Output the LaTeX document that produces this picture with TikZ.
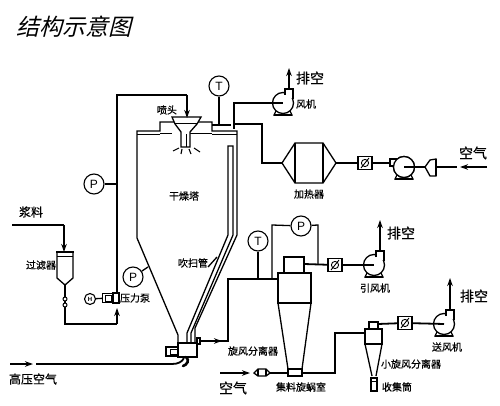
\documentclass[tikz,border=0pt]{standalone}
\usepackage{fontspec}
\setmainfont{Noto Sans CJK SC}
\setsansfont{Liberation Sans}
\newfontfamily\lblfont[FakeBold=0.6]{Noto Sans CJK SC}
\newfontfamily\bigfont[FakeBold=0.4]{Noto Sans CJK SC}
\usetikzlibrary{arrows.meta}
\tikzset{
  pipe/.style={line width=1.8pt,line join=miter},
  wall/.style={line width=1.3pt,line join=miter},
  thin wall/.style={line width=0.9pt},
  flow/.style={pipe,-{Stealth[length=8pt,width=5.5pt]}},
  gauge/.style={circle,draw,line width=1.1pt,fill=white,minimum size=20pt,inner sep=0pt,font=\sffamily\fontsize{12}{12}\selectfont},
  valve/.style={rectangle,draw,line width=1.6pt,fill=white,minimum width=14pt,minimum height=13pt,inner sep=0pt,
    path picture={\draw[line width=0.9pt] (path picture bounding box.center) circle (3.6pt);
      \draw[line width=0.9pt] ([shift={(-4pt,-5pt)}]path picture bounding box.center) -- ([shift={(4pt,5pt)}]path picture bounding box.center);}},
  big/.style={inner sep=0pt,font=\bigfont\fontsize{14}{14}\selectfont},
  mid/.style={inner sep=0pt,font=\bigfont\fontsize{12}{12}\selectfont},
  small/.style={inner sep=0pt,font=\lblfont\fontsize{10}{10}\selectfont},
  fanbody/.pic={
    \draw[line width=1.2pt] (-7,8) -- (-9,12) -- (9,12) -- (7,8);
    \draw[line width=1.8pt] (-9,12) -- (9,12);
    \draw[line width=1.3pt,fill=white] (0,0) circle (10.5);
  },
  fanoutlet/.pic={
    \draw[line width=1.3pt,fill=white] (2,-8) -- (2,-14) -- (10,-14) -- (10,-4);
  }
}
\begin{document}
\begin{tikzpicture}[x=1pt,y=-1pt]
\useasboundingbox (0,0) rectangle (500,406);
% title
\node[inner sep=0pt,xslant=0.25,font=\fontsize{23}{23}\selectfont] (title) at (76,27) {结构示意图};

% tower
\draw[wall] (178,343) -- (178,335) -- (137,238) -- (137,131) -- (160,131) -- (160,122) -- (212,122) -- (212,131) -- (237,131) -- (237,235) -- (195,328) -- (195,343);
\draw[thin wall] (137,134) -- (160,134);
\draw[thin wall] (212,134) -- (237,134);
\draw[thin wall] (160,133) -- (172,133);
\draw[thin wall] (190,133) -- (212,133);
% purge pipe
\draw[wall] (187,343) -- (187,333) -- (228,235) -- (228,146) -- (233,146) -- (233,235) -- (191,333) -- (191,343);
% nozzle
\draw[wall,fill=white] (172,117) -- (201,117) -- (197,124) -- (190,132) -- (190,147) -- (181,147) -- (181,132) -- (175,124) -- cycle;
\draw[thin wall] (174,123) -- (198,123);
\draw[thin wall] (186,134) -- (186,147);
\foreach \a/\b/\c/\d in {173/151/179/148, 181/154/182/149, 191/154/189/149, 200/152/194/148}
  \draw[line width=1.1pt] (\a,\b) -- (\c,\d);
\node[small] (lnozzle) at (167,110) {喷头};
\node[small] (ltower) at (184,196) {干燥塔};

% gauge T1 and exhaust fan
\node[gauge] (T1) at (219,86) {T};
\draw[wall] (T1) -- (219,124);
\draw[pipe] (212,125) -- (231,125);
\pic at (283,103) {fanbody};
\pic at (283,103) {fanoutlet};
\draw[pipe] (234,129) -- (234,103) -- (283,103);
\draw[flow] (289,90) -- (289,68);
\node[big] (lex1) at (310,78) {排空};
\node[small] (lfan1) at (306,104) {风机};

% air heater line
\draw[pipe] (234,124) -- (262,124) -- (262,163) -- (282,163);
\draw[wall] (282,163) -- (295,143) -- (323,143) -- (336,163) -- (323,183) -- (295,183) -- cycle;
\draw[wall] (295,143) -- (295,183) (323,143) -- (323,183);
\node[small] (lheat) at (309,194) {加热器};
\node[valve] (V1) at (365,163) {};
\draw[pipe] (336,163) -- (V1);
\draw[pipe] (V1) -- (390,163);
\pic at (404,167) {fanbody};
\draw[wall,fill=white] (390,159) rectangle (398,166);
\draw[wall,fill=white] (404,167) circle (10.5);
\draw[wall,fill=white] (425,167) -- (430,160) -- (436,159) -- (436,176) -- (430,176) -- cycle;
\draw[pipe] (404,167) -- (425,167);
\draw[line width=2pt] (436,159) -- (436,176);
\draw[pipe] (436,167) -- (457,167);
\draw[flow] (487,167) -- (460,167);
\node[big] (lair1) at (473,153) {空气};

% feed
\node[mid] (lfeed) at (31,212) {浆料};
\draw[pipe] (12,225) -- (64,225);
\draw[flow] (64,225) -- (64,252);
\draw[wall] (57,252) -- (57,278) -- (65,285) -- (73,278) -- (73,252);
\draw[pipe] (56,252) -- (74,252);
\draw[thin wall] (57,256) -- (73,256);
\node[small] (lfilter) at (41,265) {过滤器};
\draw[pipe] (65,285) -- (65,324) -- (117,324);
\draw[line width=1pt,fill=white] (65,299) circle (2) (65,305) circle (2);
\draw[flow] (117,324) -- (117,308);

% pump and pressure line
\draw[pipe] (117,304) -- (117,95) -- (187,95);
\draw[flow] (187,95) -- (187,118);
\node[gauge] (P1) at (94,184) {P};
\draw[wall] (P1) -- (117,184);
\node[gauge,minimum size=11pt,font=\sffamily\fontsize{6}{6}\selectfont\bfseries] (H) at (90,299) {H};
\node[rectangle,draw,line width=1.3pt,fill=white,minimum width=11pt,minimum height=9pt,inner sep=0pt] (pump) at (108,298) {};
\draw[wall] (H) -- (pump);
\draw[thin wall] (105,295) rectangle (111,301);
\draw[wall,fill=white] (113,293) rectangle (119,303);
\node[small] (lpump) at (135,298) {压力泵};
\node[gauge] (P3) at (133,277) {P};
\draw[wall] (P3) -- (148,267);
\node[small] (lpurge) at (193,263) {吹扫管};
\draw[wall] (208,267) -- (217,257);

% bottom of tower
\draw[wall,fill=white] (178,343) rectangle (197,357);
\draw[wall,fill=white] (166,347) rectangle (178,356);
\draw[thin wall] (170,349) rectangle (178,354);
\draw[wall,fill=white] (197,338) rectangle (200,344);
\draw[line width=2.6pt,line cap=round] (186,357) .. controls (190,360) and (187,365) .. (183,366);
\draw[flow] (10,364) -- (33,364);
\draw[pipe] (36,364) -- (172,364) .. controls (178,364) and (182,362) .. (184,358);
\node[mid] (lhp) at (33,379) {高压空气};
\draw[flow] (200,341) -- (222,341);
\draw[pipe] (220,341) -- (228,341) -- (228,279) -- (278,279);

% cyclone
\draw[wall] (278,273) rectangle (311,303);
\draw[wall] (284,273) -- (284,257) -- (304,257) -- (304,273);
\draw[wall] (278,303) -- (288,369) (311,303) -- (302,369);
\draw[wall,fill=white] (288,369) rectangle (302,376);
\node[small] (lcyc) at (253,351) {旋风分离器};
\node[small] (lroom) at (301,387) {集料旋蜗室};
\node[gauge] (T2) at (258,241) {T};
\draw[wall] (T2) -- (258,279);
\node[gauge] (P2) at (301,226) {P};
\draw[wall] (272,279) -- (272,225) -- (P2);
\draw[wall] (P2) -- (318,225) -- (318,264);
\node[valve] (V2) at (335,265) {};
\draw[pipe] (304,264) -- (V2);
\pic at (374,265) {fanbody};
\pic at (374,265) {fanoutlet};
\draw[pipe] (V2) -- (374,265);
\draw[flow] (380,251) -- (380,220);
\node[big] (lex2) at (401,233) {排空};
\node[small] (lfan2) at (375,288) {引风机};

% air in
\draw[flow] (220,373) -- (250,373);
\node[big] (lair2) at (233,388) {空气};
\draw[wall,fill=white] (254,373) -- (258,369) -- (266,369) -- (270,373) -- (266,376) -- (258,376) -- cycle;
\draw[wall] (258,369) -- (258,376) (266,369) -- (266,376);
\draw[pipe] (270,373) -- (288,373);

% small cyclone
\draw[pipe] (302,373) -- (335,373) -- (335,333) -- (365,333);
\draw[wall] (365,329) rectangle (382,344);
\draw[wall] (369,329) -- (369,322) -- (378,322) -- (378,329);
\draw[wall] (365,344) -- (372,376) (382,344) -- (376,376);
\draw[wall] (371,378) rectangle (377,391);
\draw[thin wall] (371,381) -- (377,381);
\node[small] (lsmall) at (411,364) {小旋风分离器};
\node[small] (lcoll) at (397,387) {收集筒};
\node[valve] (V3) at (405,323) {};
\draw[pipe] (378,324) -- (V3);
\pic at (444,324) {fanbody};
\pic at (444,324) {fanoutlet};
\draw[pipe] (V3) -- (444,324);
\draw[flow] (450,310) -- (450,278);
\node[big] (lex3) at (474,296) {排空};
\node[small] (lfan3) at (447,347) {送风机};
\end{tikzpicture}
\end{document}
